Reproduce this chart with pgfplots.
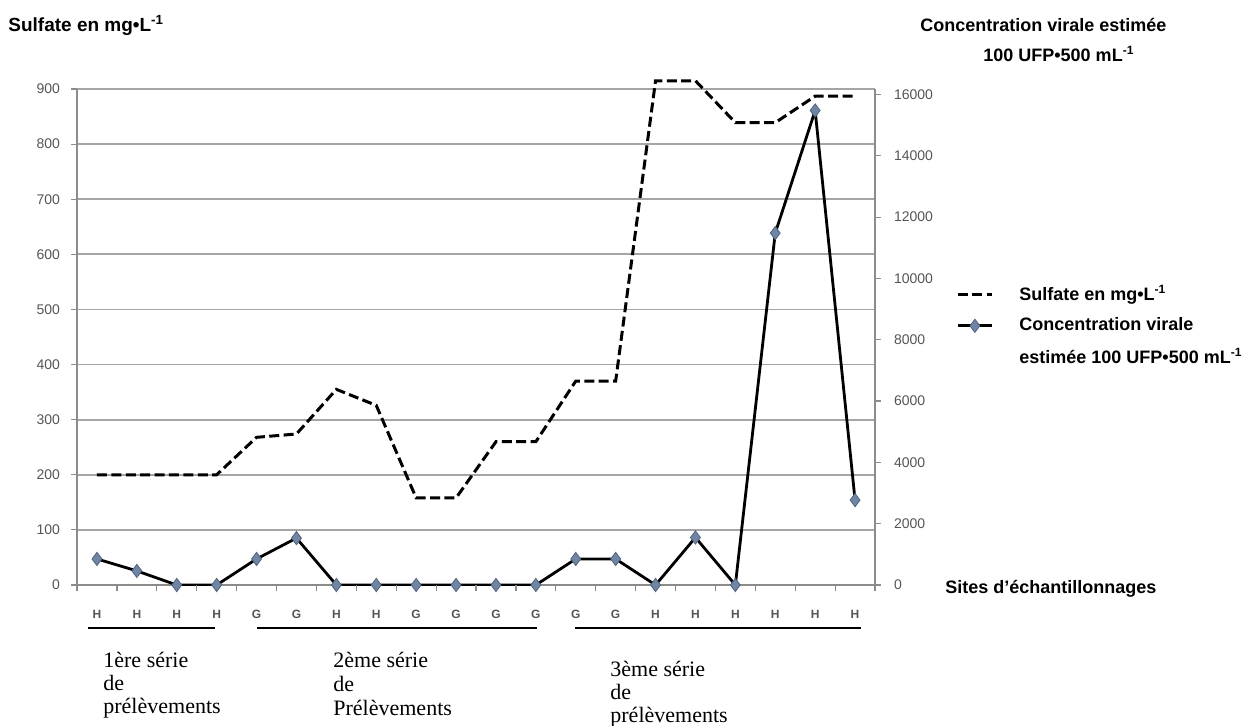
\documentclass[border=0pt]{standalone}
\usepackage{fontspec}
\setmainfont{Liberation Sans}
\newfontfamily\serif{Liberation Serif}
\usepackage{pgfplots}
\usepackage{pgfplotstable}
\pgfplotsset{compat=1.18}

\definecolor{gridgray}{RGB}{165,165,165}
\definecolor{axisgray}{RGB}{140,140,140}
\definecolor{tickgray}{RGB}{85,85,85}
\definecolor{markfill}{RGB}{112,132,163}
\definecolor{markdraw}{RGB}{80,98,128}

% x = site index, sulf = sulfate (mg/L), vir = virus (UFP/500 mL)
\pgfplotstableread{
x  sulf vir
0  200  850
1  200  460
2  200  0
3  200  0
4  268  850
5  274  1530
6  355  0
7  326  0
8  158  0
9  158  0
10 260  0
11 260  0
12 370  850
13 370  850
14 915  0
15 915  1550
16 839  0
17 839  11480
18 887  15480
19 887  2770
}\data

\pgfplotsset{
  base/.style={
    width=399pt, height=248pt, scale only axis,
    at={(38.5pt,70pt)}, anchor=south west,
    xmin=-0.5, xmax=19.5, ymin=0,
    tick align=outside,
    /pgf/number format/assume math mode=true,
    /pgf/number format/1000 sep={},
    scaled y ticks=false,
    ticklabel style={font=\fontsize{7}{8}\selectfont, text=tickgray},
    major tick length=3pt,
    tick style={axisgray, line width=0.6pt},
  },
  sulfstyle/.style={black, line width=1.5pt, dash pattern=on 5pt off 2.2pt},
  virstyle/.style={black, line width=1.4pt, mark=diamond*, mark size=3.3pt,
    mark options={solid, fill=markfill, draw=markdraw, line width=0.4pt}},
}

\begin{document}
\begin{tikzpicture}
\path[use as bounding box] (0,0) rectangle (626.5pt,362.5pt);

\begin{axis}[base,
  ymax=900, ytick={0,100,...,900},
  clip=false,
  axis x line*=bottom, axis y line*=left,
  axis line style={-, axisgray, line width=0.9pt},
  ymajorgrids, major grid style={gridgray, line width=0.9pt},
  xtick={0,...,19},
  xticklabels={H,H,H,H,G,G,H,H,G,G,G,G,G,G,H,H,H,H,H,H},
  major x tick style={draw=none},
  xticklabel style={font=\bfseries\fontsize{6}{7}\selectfont, text=tickgray, yshift=-6pt},
  yticklabel style={xshift=-2pt},
]
\addplot[sulfstyle] table[x=x, y=sulf] {\data};
\end{axis}

\begin{axis}[base,
  ymax=16180, ytick={0,2000,...,16000}, xtick=\empty,
  axis x line=none, axis y line*=right,
  axis line style={-, axisgray, line width=0.9pt},
  yticklabel style={xshift=3pt},
  legend style={draw=none, fill=none, at={(1.094,0.622)}, anchor=north west,
    font=\bfseries\fontsize{9}{10}\selectfont, cells={anchor=west}, row sep=3pt,
    /tikz/every odd column/.append style={column sep=11pt}},
  legend image code/.code={\draw[mark repeat=2, mark phase=2, #1]
    plot coordinates {(0pt,0pt) (8.5pt,0pt) (17pt,0pt)};},
]
\addlegendimage{sulfstyle}
\addlegendentry{Sulfate en mg•L\textsuperscript{-1}}
\addplot[virstyle] table[x=x, y=vir] {\data};
\addlegendentry{Concentration virale}
\addlegendimage{empty legend}
\addlegendentry{estimée 100 UFP•500 mL\textsuperscript{-1}}
\end{axis}

% small category separators under the x axis
\foreach \k in {0,...,20}
  \draw[axisgray, line width=0.6pt] (38.5pt+\k*19.95pt,70pt) -- ++(0,-3pt);

\begin{scope}[every node/.style={inner sep=0pt, anchor=base west}]
\node[font=\bfseries\fontsize{9.5}{10}\selectfont] at (4pt,346.5pt) {Sulfate en mg•L\textsuperscript{-1}};
\node[font=\bfseries\fontsize{9}{10}\selectfont] at (460pt,346.5pt) {Concentration virale estimée};
\node[font=\bfseries\fontsize{9}{10}\selectfont] at (491.5pt,331.5pt) {100 UFP•500 mL\textsuperscript{-1}};
\node[font=\bfseries\fontsize{9}{10}\selectfont] at (472.5pt,66pt) {Sites d’échantillonnages};

\node[font=\serif\fontsize{11}{12}\selectfont] at (51.5pt,29pt) {1ère série};
\node[font=\serif\fontsize{11}{12}\selectfont] at (51.5pt,17.5pt) {de};
\node[font=\serif\fontsize{11}{12}\selectfont] at (51.5pt,6pt) {prélèvements};
\node[font=\serif\fontsize{11}{12}\selectfont] at (166.5pt,29pt) {2ème série};
\node[font=\serif\fontsize{11}{12}\selectfont] at (166.5pt,17pt) {de};
\node[font=\serif\fontsize{11}{12}\selectfont] at (166.5pt,5pt) {Prélèvements};
\node[font=\serif\fontsize{11}{12}\selectfont] at (305pt,24.5pt) {3ème série};
\node[font=\serif\fontsize{11}{12}\selectfont] at (305pt,13pt) {de};
\node[font=\serif\fontsize{11}{12}\selectfont] at (305pt,1.5pt) {prélèvements};
\end{scope}

\draw[black, line width=1.4pt] (44pt,48.5pt) -- (107.5pt,48.5pt);
\draw[black, line width=1.4pt] (128.5pt,48.5pt) -- (268.5pt,48.5pt);
\draw[black, line width=1.4pt] (287.5pt,48.5pt) -- (430.5pt,48.5pt);
\end{tikzpicture}
\end{document}
